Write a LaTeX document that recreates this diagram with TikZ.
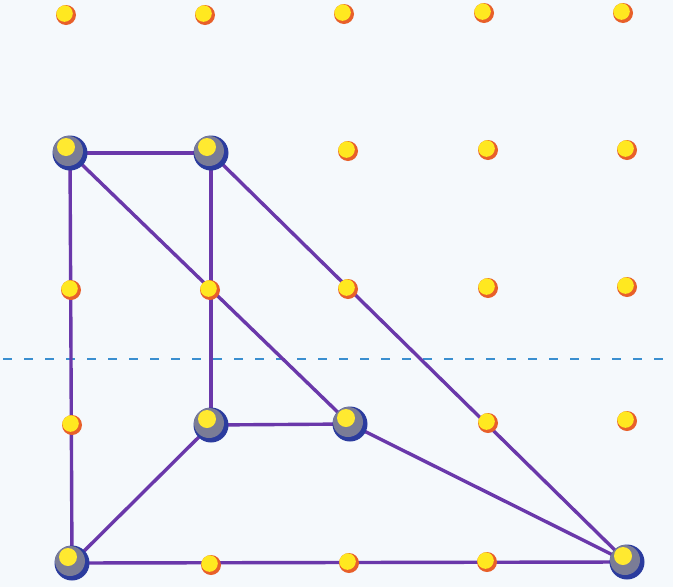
\documentclass[tikz,border=0pt]{standalone}
\usetikzlibrary{backgrounds}
\definecolor{bgcol}{HTML}{F5F9FC}
\definecolor{edgecol}{HTML}{6A38AA}
\definecolor{dashcol}{HTML}{3A8FD0}
\definecolor{ballbase}{HTML}{2B3C9E}
\definecolor{ballmid}{HTML}{7A7C96}
\definecolor{ballhi}{HTML}{FFE930}
\definecolor{dotbase}{HTML}{E8602A}
\definecolor{dothi}{HTML}{FFE820}
\tikzset{
  bigball/.style={circle, inner sep=0pt, minimum size=35pt, fill=ballbase,
    path picture={
      \fill[ballmid] ([xshift=-2pt,yshift=2pt]path picture bounding box.center) circle (15pt);
      \fill[ballhi] ([xshift=-4pt,yshift=6pt]path picture bounding box.center) circle (9pt);
    }},
  smalldot/.style={circle, inner sep=0pt, minimum size=20pt, fill=dotbase,
    path picture={
      \fill[dothi] ([xshift=-1.5pt,yshift=1.5pt]path picture bounding box.center) circle (8.3pt);
    }},
  edge/.style={draw=edgecol, line width=3.4pt},
  axisline/.style={draw=dashcol, line width=2.2pt, dash pattern=on 9pt off 12pt}
}
\begin{document}
\begin{tikzpicture}[x=1pt,y=-1pt]
\useasboundingbox (0,0) rectangle (673,587);
% small dots
\node[smalldot] (d11) at (66,15) {};
\node[smalldot] (d12) at (205,15) {};
\node[smalldot] (d13) at (344,14) {};
\node[smalldot] (d14) at (484,13) {};
\node[smalldot] (d15) at (623,13) {};
\node[smalldot] (d23) at (348,151) {};
\node[smalldot] (d24) at (488,150) {};
\node[smalldot] (d25) at (627,150) {};
\node[smalldot] (d31) at (71,290) {};
\node[smalldot] (d32) at (210,290) {};
\node[smalldot] (d33) at (348,289) {};
\node[smalldot] (d34) at (488,288) {};
\node[smalldot] (d35) at (627,287) {};
\node[smalldot] (d41) at (72,425) {};
\node[smalldot] (d44) at (488,423) {};
\node[smalldot] (d45) at (627,421) {};
\node[smalldot] (d52) at (211,565) {};
\node[smalldot] (d53) at (349,563) {};
\node[smalldot] (d54) at (487,562) {};
% big balls
\node[bigball] (A) at (70,153) {};
\node[bigball] (B) at (211,153) {};
\node[bigball] (C) at (211,425) {};
\node[bigball] (D) at (350,424) {};
\node[bigball] (E) at (72,563) {};
\node[bigball] (F) at (627,562) {};
\begin{scope}[on background layer]
\fill[bgcol] (0,0) rectangle (673,587);
\coordinate (L) at (3,359);
\coordinate (R) at (673,359);
\draw[axisline] (L) -- (R);
\draw[edge] (A.center) -- (B.center);
\draw[edge] (A.center) -- (E.center);
\draw[edge] (A.center) -- (D.center);
\draw[edge] (B.center) -- (C.center);
\draw[edge] (B.center) -- (F.center);
\draw[edge] (C.center) -- (D.center);
\draw[edge] (C.center) -- (E.center);
\draw[edge] (D.center) -- (F.center);
\draw[edge] (E.center) -- (F.center);
\end{scope}
\end{tikzpicture}
\end{document}
